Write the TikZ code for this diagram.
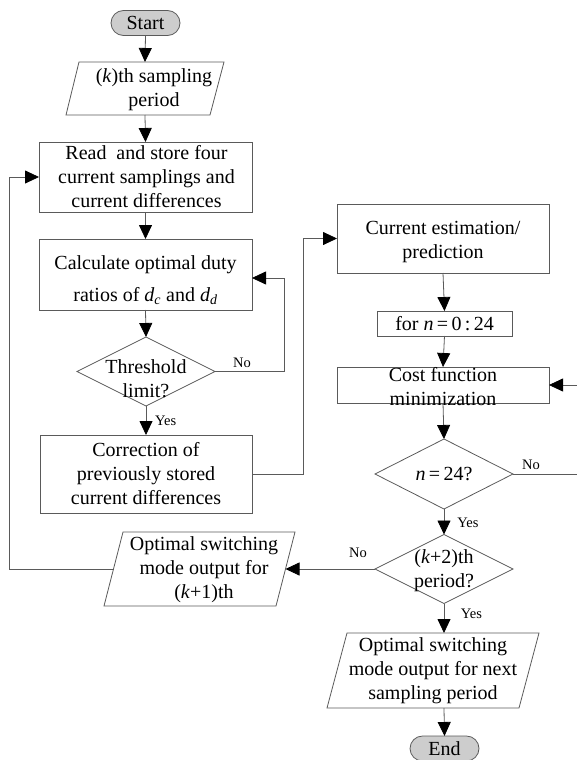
\documentclass[tikz,border=0pt]{standalone}
\usepackage{fontspec}
\setmainfont{Liberation Serif}
\usetikzlibrary{arrows.meta,shapes.geometric}
\definecolor{lc}{RGB}{90,90,90}
\definecolor{pill}{RGB}{205,205,205}
\begin{document}
\begin{tikzpicture}[x=1pt,y=-1pt,
  shp/.style={draw=lc,line width=0.8pt,inner sep=0pt,outer sep=0pt},
  rbox/.style={shp,rectangle},
  dia/.style={shp,diamond,minimum width=138pt,minimum height=69pt},
  term/.style={shp,rectangle,rounded corners=12.5pt,fill=pill,minimum width=69pt,minimum height=25pt},
  txt/.style={inner sep=0pt,align=center,font=\fontsize{20}{24}\selectfont},
  lbl/.style={inner sep=0pt,font=\fontsize{14.5}{16}\selectfont},
  conn/.style={draw=lc,line width=0.8pt},
  arr/.style={conn,-{Triangle[length=14pt,width=13pt,color=black]}}
]
\useasboundingbox (0,0) rectangle (576,760);

% terminals
\node[term] (start) at (145.5,23) {};
\node[txt] (startt) at (start) {Start};
\node[term] (end) at (444.5,748.5) {};
\node[txt] (endt) at (end) {End};

% parallelogram 1
\draw[shp] (79,62) -- (224,62) -- (210,115) -- (66,115) -- cycle;
\coordinate (p1n) at (145,62);
\coordinate (p1s) at (145,115);
\node[txt] (p1t) at (154,90) {(\textit{k})th sampling\\period};

% left column boxes
\node[rbox,minimum width=213pt,minimum height=70pt] (read) at (145.5,177) {};
\node[txt] (readt) at (146.5,177) {Read\ \ and store four\\current samplings and\\current differences};
\node[rbox,minimum width=213pt,minimum height=71pt] (calc) at (145.5,274.5) {};
\node[txt] (calct) at (145.5,280) {Calculate optimal duty\\[8pt]ratios of \textit{d}\textsubscript{\textit{c}} and \textit{d}\textsubscript{\textit{d}}};
\node[dia] (thr) at (146,371.5) {};
\node[txt] (thrt) at (146,379) {Threshold\\limit?};
\node[rbox,minimum width=212pt,minimum height=78pt] (corr) at (146,474) {};
\node[txt] (corrt) at (146,474) {Correction of\\previously stored\\current differences};

% right column
\node[rbox,minimum width=212pt,minimum height=69pt] (est) at (443,238.5) {};
\node[txt] (estt) at (443,242) {Current estimation/\\prediction};
\node[rbox,minimum width=135pt,minimum height=25pt] (forn) at (444.5,323.5) {};
\node[txt] (fornt) at (444.5,323.5) {for \textit{n}\,=\,0\,:\,24};
\node[rbox,minimum width=212pt,minimum height=36pt] (cost) at (443,385) {};
\node[txt] (costt) at (443,387) {Cost function\\minimization};
\node[dia,minimum height=70pt] (n24) at (444,474) {};
\node[txt] (n24t) at (444,474) {\textit{n}\,=\,24?};
\node[dia] (k2) at (444,569) {};
\node[txt] (k2t) at (444,571) {(\textit{k}+2)th\\period?};

% parallelogram 2 (k+1)
\draw[shp] (123,532) -- (295,532) -- (276,606) -- (104,606) -- cycle;
\coordinate (p2e) at (285.5,569);
\coordinate (p2w) at (113.5,569);
\node[txt] (p2t) at (204,570) {Optimal switching\\mode output for\\(\textit{k}+1)th};

% parallelogram 3 (final)
\draw[shp] (347,633) -- (539,633) -- (519,708) -- (327,708) -- cycle;
\coordinate (p3n) at (444,633);
\coordinate (p3s) at (444,708);
\node[txt] (p3t) at (433,671) {Optimal switching\\mode output for next\\sampling period};

% connectors
\draw[arr] (start.south) -- (p1n);
\draw[arr] (p1s) -- (read.north);
\draw[arr] (read.south) -- (calc.north);
\draw[arr] (calc.south) -- (thr.north);
\draw[arr] (thr.south) -- (corr.north);
\draw[arr] (thr.east) -- ++(69,0) |- ([yshift=-3.5pt]calc.east);
\draw[arr] (corr.east) -- ++(51,0) |- (est.west);
\draw[arr] (est.south) -- (forn.north);
\draw[arr] (forn.south) -- (cost.north);
\draw[arr] (cost.south) -- (n24.north);
\draw[arr] (n24.east) -- ++(134,0) |- (cost.east);
\draw[arr] (n24.south) -- (k2.north);
\draw[arr] (k2.west) -- (p2e);
\draw[arr] (p2w) -- ++(-104.5,0) |- (read.west);
\draw[arr] (k2.south) -- (p3n);
\draw[arr] (p3s) -- (end.north);

% labels
\node[lbl,anchor=west] (yes1) at (155,421) {Yes};
\node[lbl] (no1) at (242,363) {No};
\node[lbl] (no2) at (531,465) {No};
\node[lbl] (yes2) at (468,523) {Yes};
\node[lbl] (no3) at (358,553) {No};
\node[lbl] (yes3) at (471.5,614) {Yes};
\end{tikzpicture}
\end{document}
